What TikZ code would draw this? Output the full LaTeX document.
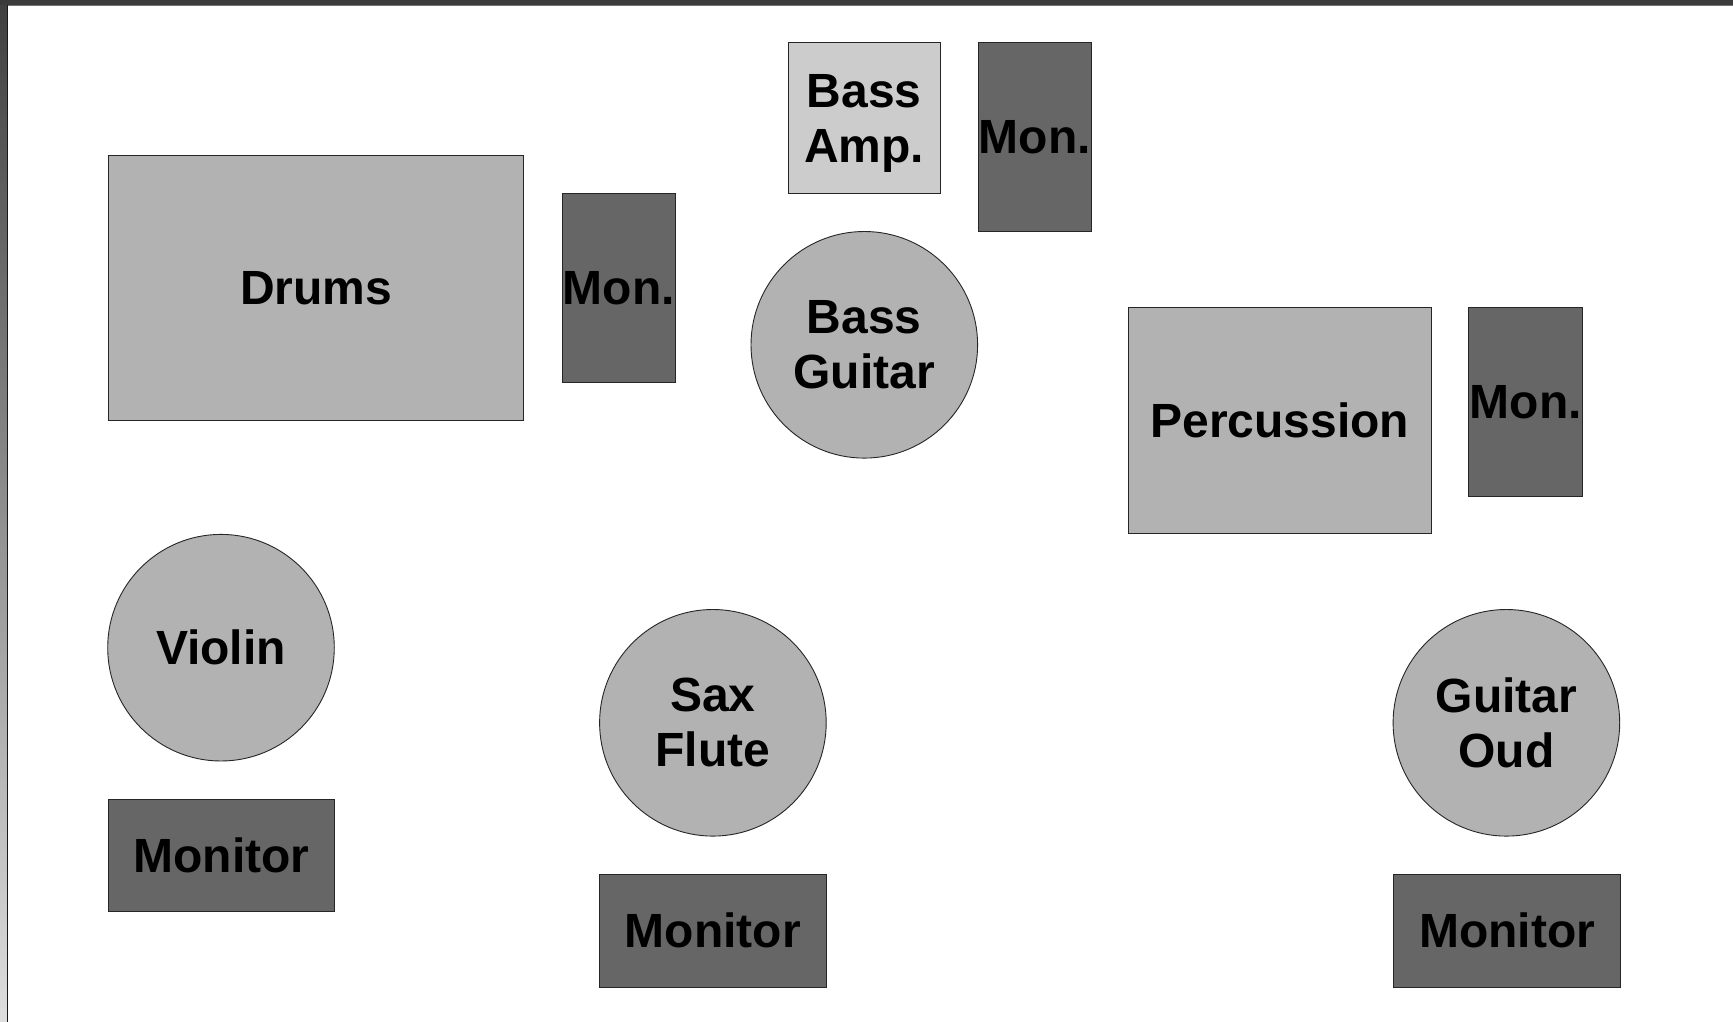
\documentclass[tikz,border=0pt]{standalone}
\usepackage{fontspec}
\setmainfont{Liberation Sans}
\begin{document}
\begin{tikzpicture}[x=1pt,y=-1pt,
  base/.style={draw=black!85,line width=0.9pt,inner sep=0pt,align=center,font=\fontsize{48}{55}\selectfont\bfseries},
  lightbox/.style={base,rectangle,fill=black!30},
  ampbox/.style={base,rectangle,fill=black!20},
  monbox/.style={base,rectangle,fill=black!60},
  player/.style={base,circle,fill=black!30,minimum size=226.6pt},
  shifted/.style={draw=none,fill=none,inner sep=0pt,align=center,font=\fontsize{48}{55}\selectfont\bfseries,yshift=-5.5pt}]
\useasboundingbox (0,0) rectangle (1733,1022);
\fill[white] (0,0) rectangle (1733,1022);
\shade[top color=black!75,bottom color=black!13] (0,0) rectangle (7,1022);
\fill[black!77] (0,0) rectangle (1733,4.6);
\draw[black!55,line width=1pt] (7,5.2) -- (1733,5.2);
\draw[black!90,line width=1pt] (7.6,5) -- (7.6,1022);

\node[lightbox,minimum width=415.6pt,minimum height=264.2pt] (drums) at (316.1,287.9) {Drums};
\node[monbox,minimum width=113.7pt,minimum height=189pt] (mon1) at (618.9,288.2) {Mon.};
\node[ampbox,minimum width=152pt,minimum height=151pt,label={[shifted]center:Bass\\Amp.}] (amp) at (864.3,118.2) {};
\node[monbox,minimum width=113.3pt,minimum height=189pt] (mon2) at (1034.7,137.2) {Mon.};
\node[player] (bass) at (864.3,344.8) {Bass\\Guitar};
\node[lightbox,minimum width=302.9pt,minimum height=226.5pt] (perc) at (1279.9,420.6) {Percussion};
\node[monbox,minimum width=113.8pt,minimum height=189pt] (mon3) at (1525.8,401.8) {Mon.};
\node[player] (violin) at (221,647.7) {Violin};
\node[monbox,minimum width=226.6pt,minimum height=112.7pt] (monitor1) at (221.6,855.5) {Monitor};
\node[player] (sax) at (712.9,722.8) {Sax\\Flute};
\node[monbox,minimum width=227.7pt,minimum height=112.8pt] (monitor2) at (712.9,930.6) {Monitor};
\node[player] (oud) at (1506.4,722.8) {Guitar\\Oud};
\node[monbox,minimum width=226.5pt,minimum height=112.8pt] (monitor3) at (1507,930.6) {Monitor};
\end{tikzpicture}
\end{document}
